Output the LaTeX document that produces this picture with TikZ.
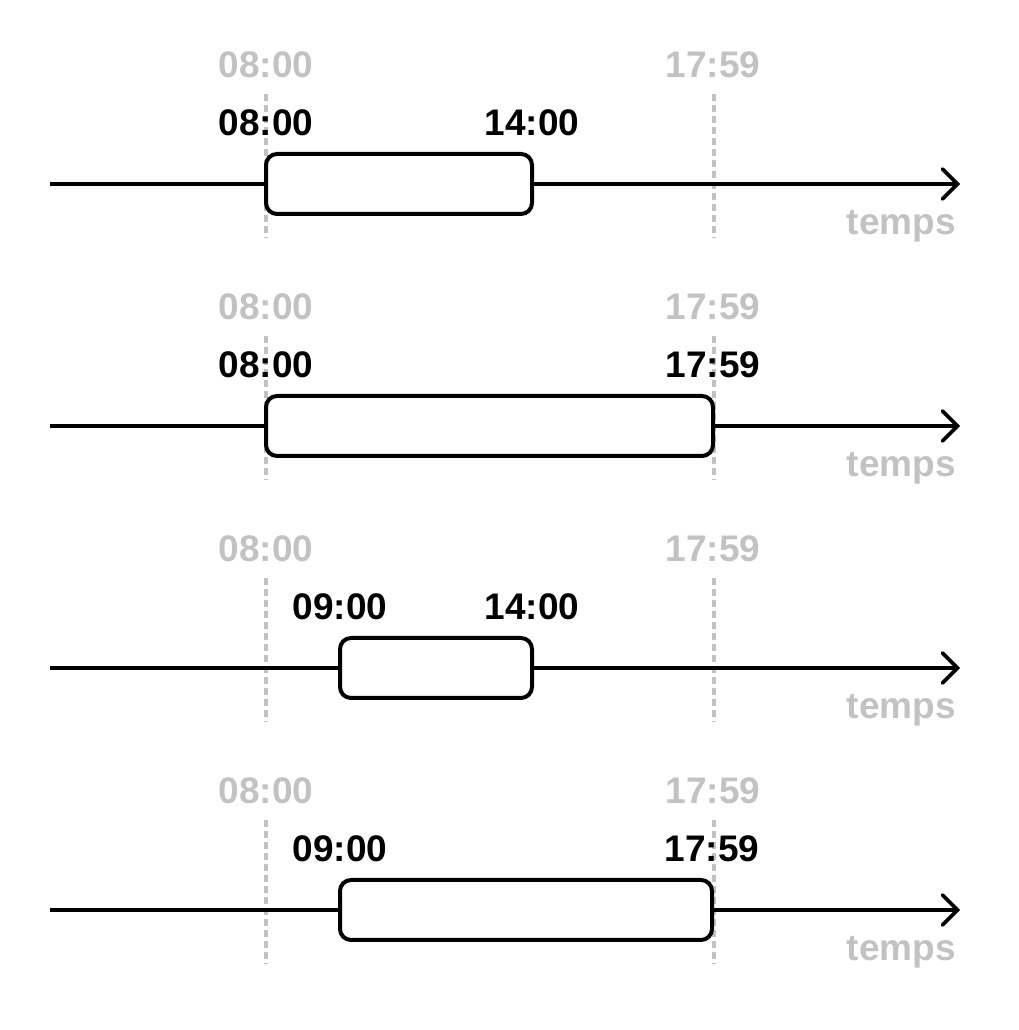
\documentclass[tikz,border=0pt]{standalone}
\usepackage{fontspec}
\setmainfont{Liberation Sans}
\usetikzlibrary{arrows.meta}
\definecolor{paleGray}{HTML}{C2C2C2}
\newcommand{\lblfont}{\fontsize{37}{40}\selectfont\bfseries}
\tikzset{
  axis/.style={line width=3.6pt,-{Straight Barb[length=15pt,width=30pt,line cap=round]}},
  guide/.style={paleGray,line width=3.2pt,dash pattern=on 7pt off 4pt},
  slot/.style={draw,fill=white,line width=4pt,rounded corners=11pt,minimum height=60pt,inner sep=0pt},
  mark lbl/.style={font=\lblfont,inner sep=0pt},
  gray lbl/.style={font=\lblfont,text=paleGray,inner sep=0pt}
}
\begin{document}
\begin{tikzpicture}[x=1pt,y=1pt]
\useasboundingbox (0,0) rectangle (1018,1030);
\foreach \i/\y/\xa/\xb/\la/\lb in {1/846/266/532/08:00/14:00,2/604/266/713/08:00/17:59,3/362/340/532/09:00/14:00,4/120/340/712/09:00/17:59}{
  % guides
  \draw[guide] (266,\y+90) -- (266,\y-54);
  \draw[guide] (714,\y+90) -- (714,\y-54);
  \node[gray lbl] (ga\i) at (266,\y+119) {08:00};
  \node[gray lbl] (gb\i) at (713,\y+119) {17:59};
  % time axis
  \coordinate (s\i) at (50,\y);
  \coordinate (e\i) at (960,\y);
  \draw[axis] (s\i) -- (e\i);
  \node[gray lbl,anchor=base east] (t\i) at (956,\y-51) {temps};
  % interval
  \pgfmathsetmacro{\w}{\xb-\xa}
  \node[slot,minimum width=\w pt] (box\i) at ({(\xa+\xb)/2},\y) {};
  \node[mark lbl] (a\i) at (\xa,\y+61) {\la};
  \node[mark lbl] (b\i) at (\xb,\y+61) {\lb};
}
\end{tikzpicture}
\end{document}
